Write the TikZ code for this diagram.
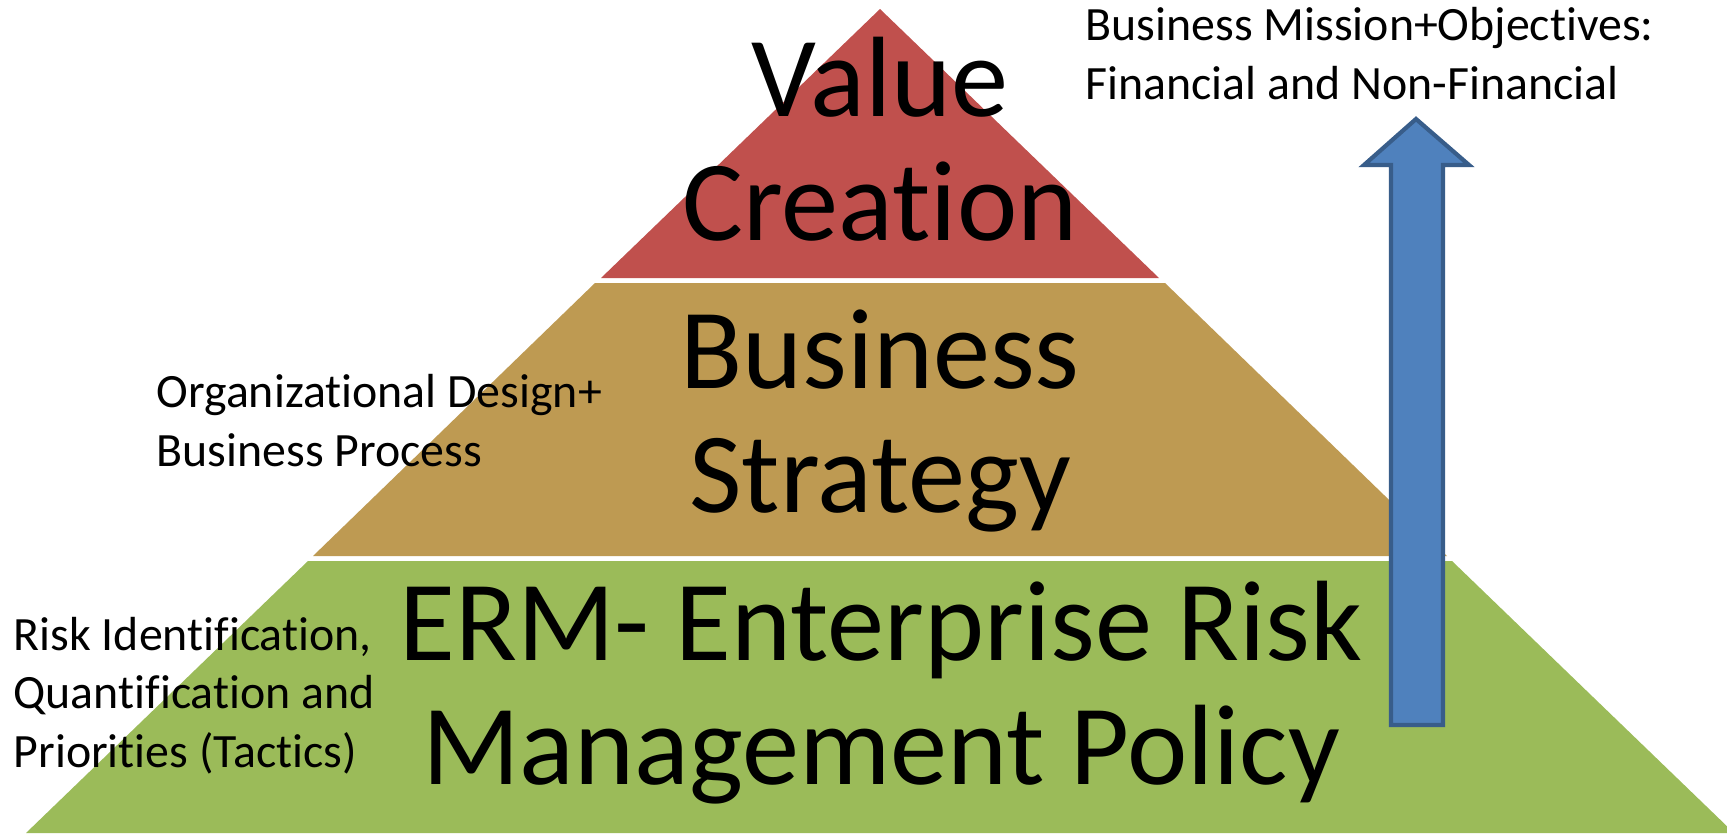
\documentclass[tikz,border=0pt]{standalone}
\usepackage{fontspec}
\setmainfont{Carlito}[Ligatures=NoCommon]
\definecolor{valuered}{RGB}{192,80,77}
\definecolor{strattan}{RGB}{190,154,82}
\definecolor{ermgreen}{RGB}{155,187,89}
\definecolor{arrowblue}{RGB}{79,129,189}
\definecolor{arrowedge}{RGB}{56,93,138}
\tikzset{
  tiertext/.style={align=center, inner sep=0, anchor=base, font=\fontsize{32.5}{35}\selectfont},
  sidetext/.style={align=left, inner sep=0, anchor=base west, font=\fontsize{13.6}{16.6}\selectfont}
}

\begin{document}
\begin{tikzpicture}[x=0.01cm,y=-0.01cm]
\useasboundingbox (0,0) rectangle (1727,833);
\fill[white] (0,0) rectangle (1727,833);
\clip (0,0) rectangle (1727,833);
% pyramid tiers
\fill[valuered] (880,9) -- (1159,278) -- (601,278) -- cycle;
\fill[strattan] (595,283) -- (1165,283) -- (1447,556) -- (313,556) -- cycle;
\fill[ermgreen] (308,561) -- (1452,561) -- (1734,833) -- (26,833) -- cycle;
% block arrow
\draw[arrowedge, fill=arrowblue, line width=0.042cm, line join=miter]
  (1391,725) -- (1391,165) -- (1364,165) -- (1416,119) -- (1469,165)
  -- (1443,165) -- (1443,725) -- cycle;
% texts (anchored on the last line)
\node[tiertext] (value) at (880,240) {Value\\Creation};
\node[tiertext] (strategy) at (880,512) {Business\\Strategy};
\node[tiertext] (erm) at (881,784) {ERM- Enterprise Risk\\Management Policy};
\node[sidetext] (mission) at (1085,99) {Business Mission+Objectives:\\Financial and Non-Financial};
\node[sidetext] (design) at (156,466) {Organizational Design+\\Business Process};
\node[sidetext] (risk) at (13,767) {Risk Identification,\\Quantification and\\Priorities (Tactics)};
\end{tikzpicture}
\end{document}
